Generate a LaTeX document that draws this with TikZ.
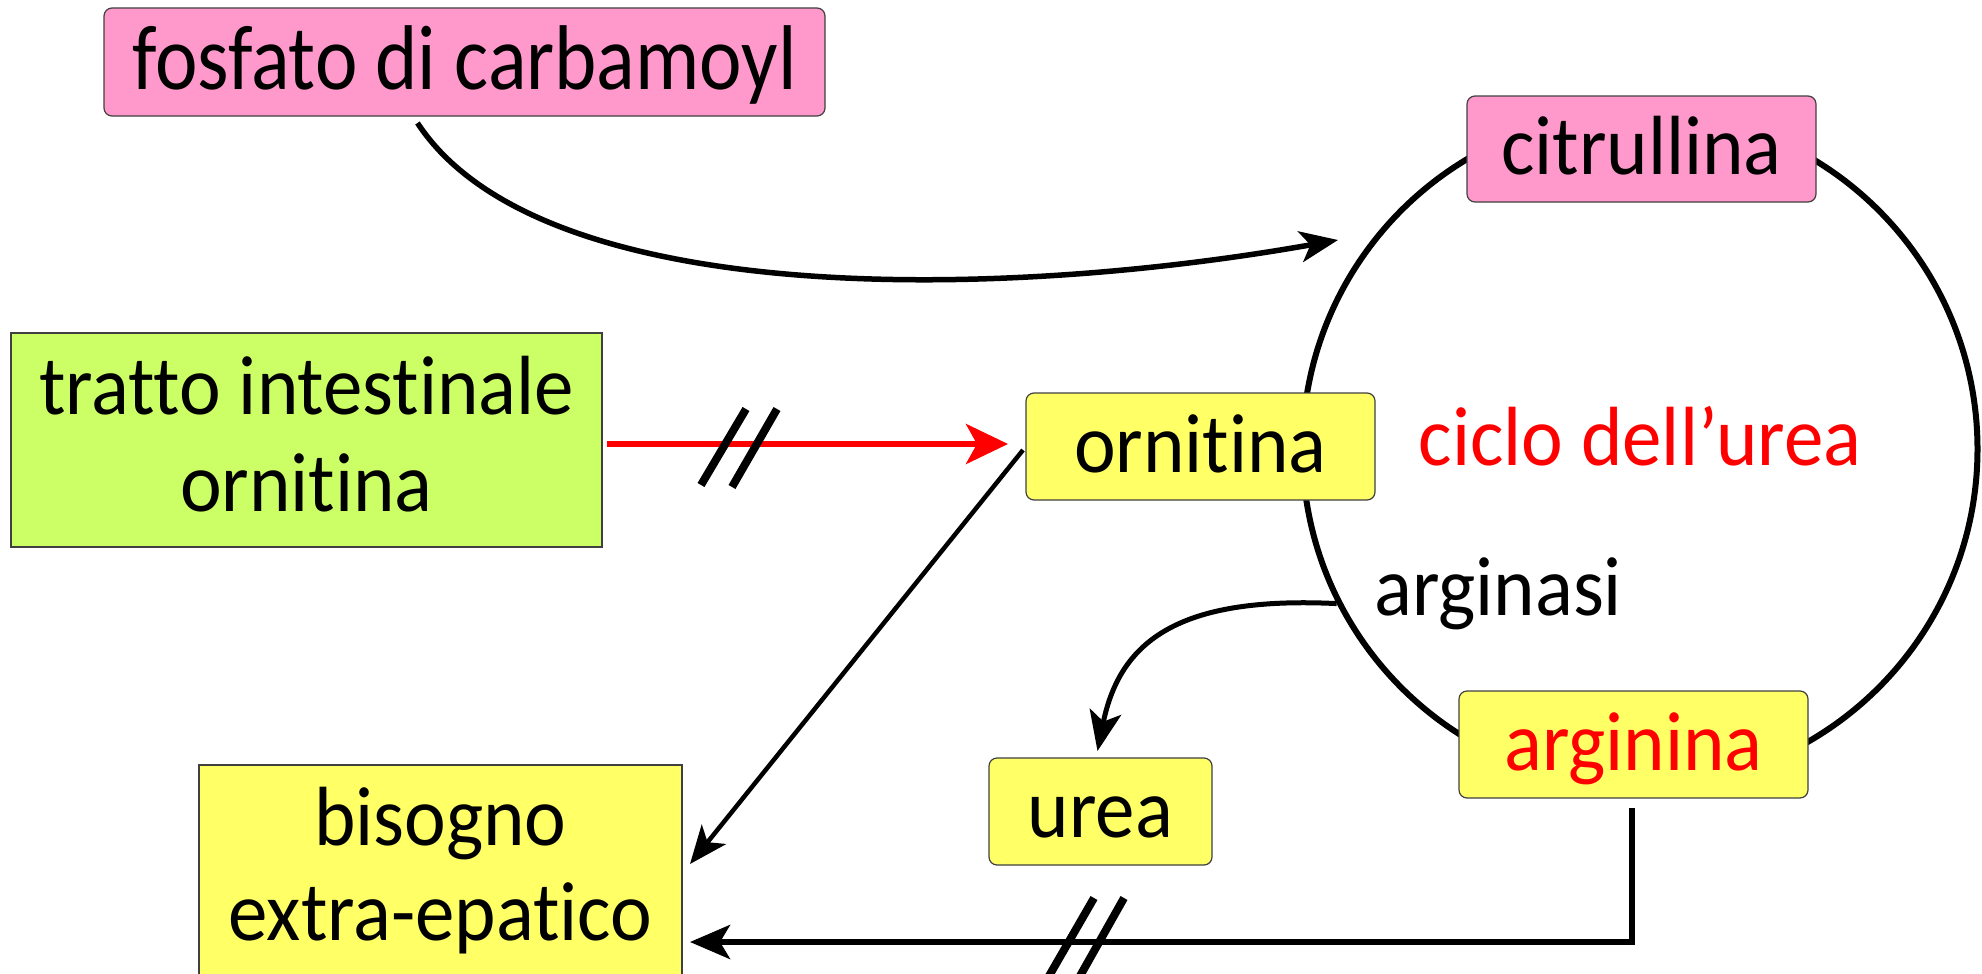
\documentclass[tikz,border=0pt]{standalone}
\usepackage{fontspec}
\setmainfont{Carlito}[Ligatures=NoCommon]
\newfontfamily\bfnt{Carlito}[FakeStretch=0.94,Ligatures=NoCommon]
\newfontfamily\ffnt{Carlito}[FakeStretch=0.875,Ligatures=NoCommon]
\usetikzlibrary{arrows.meta,calc}
\definecolor{pinkbox}{HTML}{FF99CC}
\definecolor{greenbox}{HTML}{CCFF66}
\definecolor{yellowbox}{HTML}{FFFF66}
\begin{document}
\begin{tikzpicture}[x=1pt,y=-1pt,
  box/.style={draw=black!75, line width=1.2pt, inner sep=0pt, outer sep=0pt,
              font=\bfnt\fontsize{84}{97}\selectfont, align=center},
  rbox/.style={box, rounded corners=8pt},
  onel/.style={text height=51pt, text depth=0pt},
  tipA/.style={-{Stealth[length=38pt,width=31pt,inset=10pt]}},
  conn/.style={line width=5.5pt, tipA},
  brk/.style={line width=8pt, black}
]
\useasboundingbox (0,0) rectangle (1982,974);

% cycle
\node[circle, draw, line width=6pt, minimum size=675pt, inner sep=0pt,
      text=red, font=\bfnt\fontsize{84}{97}\selectfont, text height=32pt, text depth=0pt]
      (cyc) at (1640,449) {ciclo dell’urea};
\node[anchor=base west, inner sep=0pt, font=\bfnt\fontsize{84}{97}\selectfont]
      (arginasi) at (1374,615) {arginasi};

% boxes
\node[rbox, fill=pinkbox, minimum width=721pt, minimum height=108pt,
      font=\ffnt\fontsize{92}{97}\selectfont,
      text height=54pt, text depth=0pt] (fosfato) at (464.5,62) {fosfato di carbamoyl};
\node[rbox, fill=pinkbox, minimum width=349pt, minimum height=106pt,
      text height=50pt, text depth=0pt] (citrullina) at (1641.5,149) {citrullina};
\node[rbox, fill=yellowbox, minimum width=349pt, minimum height=107pt, onel]
      (ornitina) at (1200.5,446.5) {ornitina};
\node[rbox, fill=yellowbox, minimum width=223pt, minimum height=107pt, onel]
      (urea) at (1100.5,811.5) {urea};
\node[rbox, fill=yellowbox, minimum width=349pt, minimum height=107pt, onel, text=red]
      (arginina) at (1633.5,744.5) {arginina};
\node[box, fill=greenbox, minimum width=591pt, minimum height=214pt]
      (tratto) at (306.5,440)
      {\rule{0pt}{70pt}tratto intestinale\\ornitina\rule[-25pt]{0pt}{0pt}};
\node[box, fill=yellowbox, minimum width=483pt, minimum height=220pt,
      font=\bfnt\fontsize{84}{95}\selectfont]
      (bisogno) at (440.5,875)
      {\rule{0pt}{70pt}bisogno\\extra-epatico\rule[-35pt]{0pt}{0pt}};

% connector end points
\coordinate (fs) at ([shift={(-47,7)}]fosfato.south);
\coordinate (ce) at ([shift={(-129,38)}]citrullina.south west);
\coordinate (ts) at ([shift={(5,4)}]tratto.east);
\coordinate (oe) at ([shift={(-18,-2.5)}]ornitina.west);
\coordinate (os) at ([shift={(-3,3.5)}]ornitina.west);
\coordinate (be1) at ([shift={(8,-11)}]bisogno.east);
\coordinate (be2) at ([shift={(8,67)}]bisogno.east);
\coordinate (as) at ([shift={(-2,10)}]arginina.south);
\coordinate (ue) at ([shift={(-3,-7)}]urea.north);

% connectors
\draw[conn] (fs) .. controls (540,310) and (1000,300) .. (ce);
\draw[line width=6pt, red, -{Stealth[length=42pt,width=40pt,inset=11pt]}] (ts) -- (oe);
\draw[line width=4.5pt, tipA] (os) -- (be1);
\draw[line width=5pt, -{Stealth[length=40pt,width=32pt,inset=10pt]}]
      (cyc.207) .. controls (1180,596) and (1120,640) .. (ue);
\draw[line width=6pt, -{Stealth[length=40pt,width=34pt,inset=10pt]}] (as) |- (be2);

% break marks
\draw[brk] (701,485) -- (746,409);
\draw[brk] (732,487) -- (777,409);
\draw[brk] (1049,976) -- (1094,898);
\draw[brk] (1080,976) -- (1124,898);
\end{tikzpicture}
\end{document}
